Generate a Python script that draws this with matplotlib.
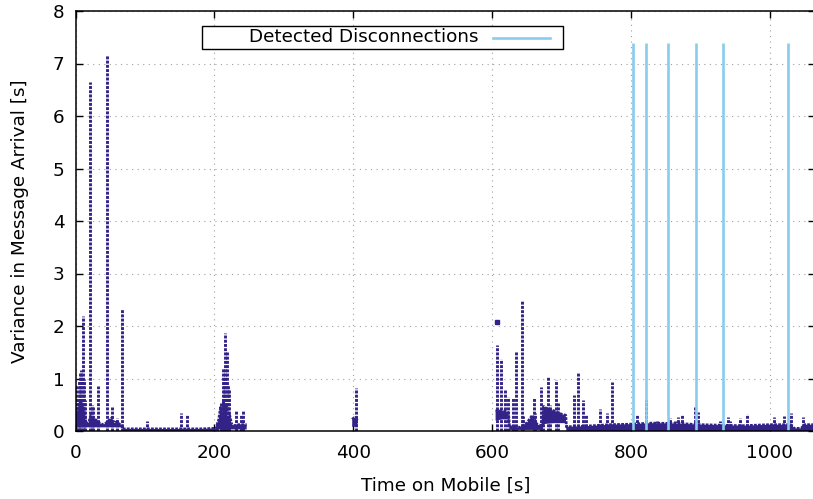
import numpy as np
import matplotlib
matplotlib.use("Agg")
import matplotlib.pyplot as plt
from matplotlib.patches import Rectangle
from matplotlib.lines import Line2D

nan = np.nan

# dense baseline band of the variance samples (time, lower edge, upper edge)
band_t = [0, 3, 5, 8, 12, 15, 19, 22, 26, 30, 35, 40, 44, 48, 52, 56, 60, 64, 67,
          67.5, 90, 120, 150, 180, 203,
          203.5, 206, 209, 211, 213, 215, 217, 219, 222, 225, 230, 235, 240, 246.5,
          nan,
          398.5, 401, 404, 406.3,
          nan,
          605, 610, 615, 620, 623.5, 625, 640, 650, 658, 665, 673,
          674, 680, 690, 700, 706, 707, 730, 745, 770, 800, 830, 870, 900, 930,
          960, 1000, 1030, 1035, 1045, 1050, 1065]
band_lo = [0.07, 0.07, 0.07, 0.07, 0.07, 0.07, 0.07, 0.07, 0.07, 0.07, 0.07, 0.07,
           0.07, 0.07, 0.07, 0.07, 0.07, 0.07, 0.07,
           -0.01, -0.01, -0.01, -0.01, -0.01, -0.01,
           0.03, 0.03, 0.03, 0.03, 0.03, 0.03, 0.03, 0.03, 0.03, 0.03, 0.03, 0.03,
           0.03, 0.03,
           nan,
           0.08, 0.08, 0.08, 0.08,
           nan,
           0.2, 0.21, 0.22, 0.22, 0.22, 0.02, 0.02, 0.02, 0.02, 0.02, 0.02,
           0.13, 0.14, 0.15, 0.15, 0.15, 0.0, 0.0, 0.0, 0.0, 0.0, 0.0, 0.0, 0.0, 0.0,
           0.0, 0.0, 0.0, 0.0, 0.0, 0.0, 0.0]
band_hi = [0.45, 0.35, 0.55, 0.6, 0.45, 0.15, 0.15, 0.3, 0.25, 0.2, 0.15, 0.12,
           0.15, 0.2, 0.25, 0.15, 0.18, 0.12, 0.1,
           0.04, 0.04, 0.04, 0.04, 0.04, 0.05,
           0.1, 0.2, 0.45, 0.25, 0.55, 0.3, 0.5, 0.25, 0.3, 0.12, 0.1, 0.12, 0.12,
           0.12,
           nan,
           0.22, 0.25, 0.24, 0.2,
           nan,
           0.38, 0.4, 0.38, 0.37, 0.35, 0.08, 0.07, 0.15, 0.3, 0.12, 0.1,
           0.46, 0.42, 0.38, 0.32, 0.3, 0.08, 0.09, 0.1, 0.12, 0.13, 0.15, 0.14,
           0.12, 0.11, 0.1, 0.12, 0.12, 0.05, 0.05, 0.12, 0.12]

# bursts of growing variance (time, peak)
spike_t = [1.4, 3, 5.5, 7, 8.5, 10.6, 12, 13, 21.3, 24, 25.5, 32.4, 45.8, 52.6,
           59.3, 67, 103, 151.5, 160, 204.5, 209, 212, 214, 216, 218, 220,
           221.5, 231.6, 238, 241.7, 403.4, 607.3, 612.7, 618.4, 623.2, 629.5,
           633.8, 643.4, 645, 660.6, 662, 670.7, 673, 680.8, 684, 692.5, 695,
           717.8, 723.5, 731.2, 735, 755, 765.8, 772.5, 808, 822, 836.8, 856,
           863, 868, 873, 892, 896, 928, 940, 943, 956.8, 966.4, 1006, 1020.6,
           1030, 1048]
spike_v = [0.88, 0.6, 0.95, 1.1, 1.16, 2.19, 1.0, 0.6, 6.65, 0.5, 0.45, 0.86,
           7.16, 0.46, 0.25, 2.32, 0.2, 0.34, 0.3, 0.18, 0.53, 1.2, 1.0, 1.86,
           1.5, 0.88, 0.8, 0.39, 0.3, 0.4, 0.81, 1.64, 1.38, 0.78, 0.64, 0.62,
           1.52, 2.48, 0.29, 0.62, 0.34, 0.84, 0.5, 1.03, 0.5, 0.97, 0.53,
           0.69, 1.1, 0.59, 0.3, 0.42, 0.35, 0.94, 0.3, 0.59, 0.19, 0.25,
           0.2, 0.27, 0.3, 0.46, 0.37, 0.2, 0.27, 0.2, 0.25, 0.32, 0.27, 0.29,
           0.34, 0.26]
outlier_t = [607.3]
outlier_v = [2.08]

# detected disconnections
disc_t = [803, 821, 853, 893, 932, 1026]
disc_top = 7.4

indigo = "#332288"
cyan = "#88CCEE"
fs = 13.2

W, H = 813, 499
fig = plt.figure(figsize=(W / 100, H / 100), dpi=100)
x0, x1, y0, y1 = 75.5, 815, 431, 11
ax = fig.add_axes([x0 / W, 1 - y0 / H, (x1 - x0) / W, (y0 - y1) / H])

dots = (0, (1, 0.45))
ax.fill_between(band_t, band_lo, band_hi, color=indigo, lw=0, zorder=3)
ax.plot(band_t, band_hi, color=indigo, lw=2.0, ls=dots, zorder=3)
ax.vlines(spike_t, 0, spike_v, colors=indigo, lw=2.1, linestyles=[dots], zorder=3)
ax.plot(outlier_t, outlier_v, ls="none", marker="s", ms=2.4, color=indigo, zorder=3)
ax.vlines(disc_t, 0, disc_top, colors=cyan, lw=1.9, zorder=4)

ax.set_xlim(0, 1065)
ax.set_ylim(0, 8)
ax.set_xticks(range(0, 1001, 200))
ax.set_yticks(range(0, 9))
ax.tick_params(direction="in", length=5, width=1, top=True, right=True,
               labelsize=fs)
ax.tick_params(axis="x", pad=9)
ax.tick_params(axis="y", pad=8)
ax.grid(True, color="#a0a0a0", lw=0.8, ls=(0, (1, 4)), zorder=1)
for s in ax.spines.values():
    s.set_linewidth(1.1)
    s.set_zorder(5)

ax.set_xlabel("Time on Mobile [s]", fontsize=fs, labelpad=11)
ax.set_ylabel("Variance in Message Arrival [s]", fontsize=fs, labelpad=17)

# legend box, gnuplot style (key at top)
lx0, lx1 = (202 - x0) / (x1 - x0), (563 - x0) / (x1 - x0)
ly0, ly1 = (y0 - 49) / (y0 - y1), (y0 - 26) / (y0 - y1)
ax.add_patch(Rectangle((lx0, ly0), lx1 - lx0, ly1 - ly0, transform=ax.transAxes,
                       facecolor="white", edgecolor="black", lw=1, zorder=6))
ly = (ly0 + ly1) / 2
ax.text((478 - x0) / (x1 - x0), ly, "Detected Disconnections", transform=ax.transAxes,
        ha="right", va="center", fontsize=fs, zorder=7)
ax.add_line(Line2D([(493 - x0) / (x1 - x0), (550 - x0) / (x1 - x0)], [ly, ly],
                   transform=ax.transAxes, color=cyan, lw=1.9, zorder=7))

fig.savefig("out.png", dpi=100)
